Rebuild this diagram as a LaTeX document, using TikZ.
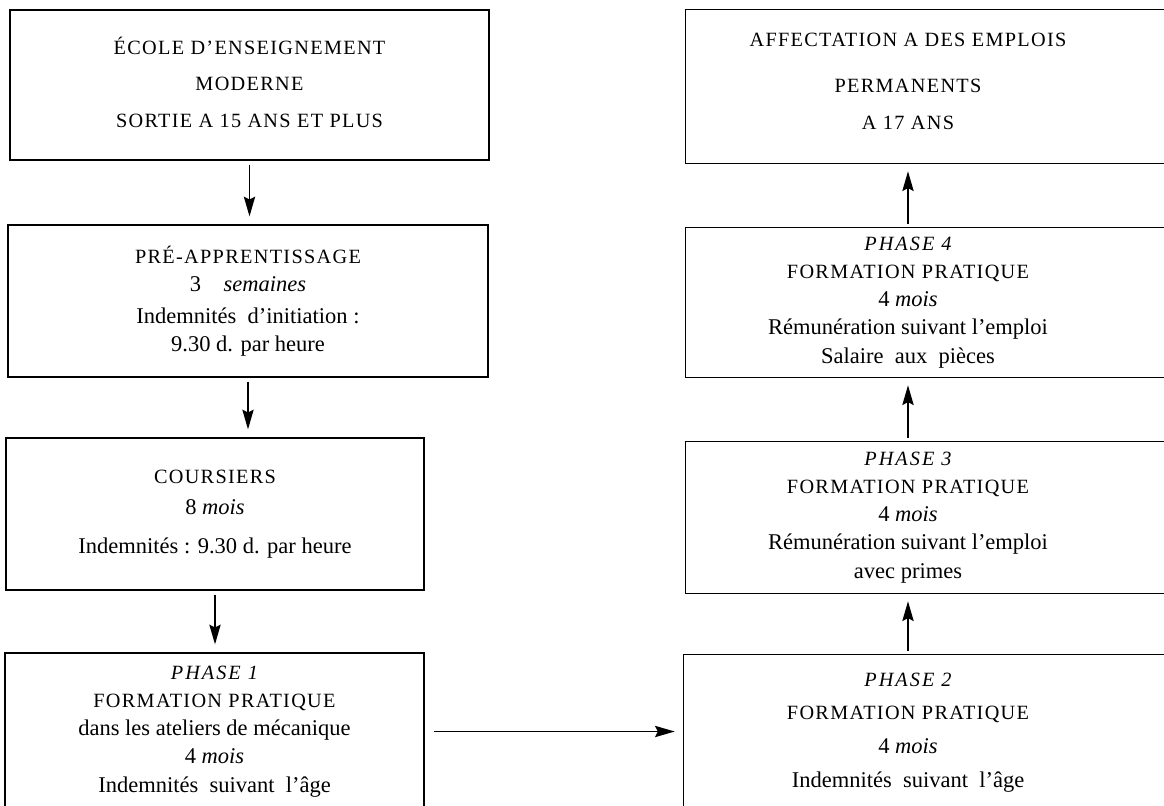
\documentclass[tikz,border=0pt]{standalone}
\usepackage{fontspec}
\setmainfont{Liberation Serif}
\usetikzlibrary{arrows.meta}
\newdimen\px \px=0.025cm
\newcommand\capstxt[1]{{\fontsize{14.4}{20}\selectfont\addfontfeature{LetterSpace=6.5}#1}}
\newcommand\itcaps[1]{{\fontsize{14.4}{20}\selectfont\itshape\addfontfeature{LetterSpace=10}#1}}
\tikzset{
  stage/.style={align=center,inner sep=0pt,font=\fontsize{16}{20}\selectfont},
  box/.style={stage,draw,line width=0.9pt},
  flow/.style={-{Stealth[length=14pt,width=8pt,inset=2pt]},line width=1.3pt,
    shorten <=4\px,shorten >=8\px}
}
\begin{document}
\begin{tikzpicture}[x=0.025cm,y=-0.025cm]
  \useasboundingbox (0,0) rectangle (1164,805);
  \node[box,minimum width=479\px,minimum height=150\px] at (249.5,85) (ecole)
    {\capstxt{ÉCOLE D’ENSEIGNEMENT}\\[6pt] \capstxt{MODERNE}\\[6pt] \capstxt{SORTIE A 15 ANS ET PLUS}\\[-16pt]\mbox{}};
  \node[box,minimum width=480\px,minimum height=152\px] at (248,301) (preapp)
    {\capstxt{PRÉ-APPRENTISSAGE}\\ 3\quad\textit{semaines}\\[3pt]
     Indemnités\enspace d’initiation :\\ 9.30 d. par heure};
  \node[box,minimum width=418\px,minimum height=152\px] at (215,514) (coursiers)
    {\capstxt{COURSIERS}\\[2pt] 8 \textit{mois}\\[8pt] Indemnités : 9.30 d. par heure};
  \node[box,minimum width=419\px,minimum height=157\px] at (214.5,731.5) (phaseone)
    {\itcaps{PHASE 1}\\ \capstxt{FORMATION PRATIQUE}\\ dans les ateliers de mécanique\\
     4 \textit{mois}\\ Indemnités\enspace suivant\enspace l’âge};

  \node[stage,minimum width=444\px,minimum height=153\px] at (908,86.5) (emplois)
    {\capstxt{AFFECTATION A DES EMPLOIS}\\[13pt] \capstxt{PERMANENTS}\\[6pt] \capstxt{A 17 ANS}\\[-12pt]\mbox{}};
  \node[stage,minimum width=444\px,minimum height=149\px] at (908,302.5) (phasefour)
    {\itcaps{PHASE 4}\\ \capstxt{FORMATION PRATIQUE}\\ 4 \textit{mois}\\
     Rémunération suivant l’emploi\\ Salaire\enspace aux\enspace pièces};
  \node[stage,minimum width=444\px,minimum height=151\px] at (908,517.5) (phasethree)
    {\itcaps{PHASE 3}\\ \capstxt{FORMATION PRATIQUE}\\ 4 \textit{mois}\\
     Rémunération suivant l’emploi\\ avec primes};
  \node[stage,minimum width=448\px,minimum height=155\px] at (908,732.5) (phasetwo)
    {\itcaps{PHASE 2}\\[4pt] \capstxt{FORMATION PRATIQUE}\\[4pt] 4 \textit{mois}\\[4pt]
     Indemnités\enspace suivant\enspace l’âge};
  \foreach \n in {emplois,phasefour,phasethree,phasetwo}
    \draw[line width=0.9pt] ([xshift=60\px]\n.north east) -- (\n.north west)
      -- (\n.south west) -- ([xshift=60\px]\n.south east);

  \draw[flow] (ecole.south) -- (ecole.south |- preapp.north);
  \draw[flow] (preapp.south) -- (preapp.south |- coursiers.north);
  \draw[flow] (coursiers.south) -- (coursiers.south |- phaseone.north);
  \draw[flow,shorten <=9\px,shorten >=9\px] (phaseone.east) -- (phaseone.east -| phasetwo.west);
  \draw[flow] (phasetwo.north) -- (phasetwo.north |- phasethree.south);
  \draw[flow] (phasethree.north) -- (phasethree.north |- phasefour.south);
  \draw[flow] (phasefour.north) -- (phasefour.north |- emplois.south);
\end{tikzpicture}
\end{document}
